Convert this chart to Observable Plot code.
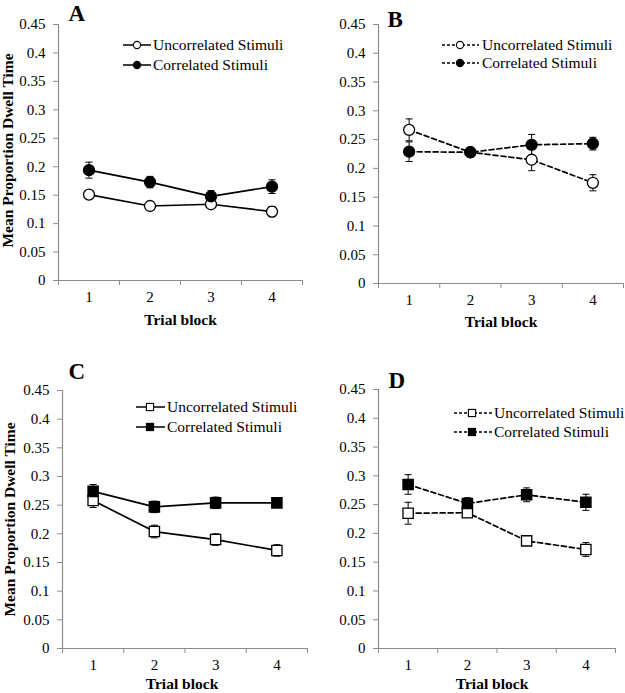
<!DOCTYPE html>
<html>
<head>
<meta charset="utf-8">
<script src="https://cdn.jsdelivr.net/npm/d3@7"></script>
<script src="https://cdn.jsdelivr.net/npm/@observablehq/plot@0.6"></script>
<style>
  html, body { margin: 0; padding: 0; background: #fff; }
  #chart { position: relative; width: 625px; height: 693px; overflow: hidden; background: #fff; }
  #chart svg { position: absolute; }
</style>
</head>
<body>
<div id="chart"></div>
<script>
// ---- data ----
const blocks = [1, 2, 3, 4];
const blockLabels = ["1", "2", "3", "4"];
const blockEdges = [0.5, 1.5, 2.5, 3.5, 4.5];
const yTicks = [0, 0.05, 0.1, 0.15, 0.2, 0.25, 0.3, 0.35, 0.4, 0.45];
const yTickLabels = ["0", "0.05", "0.1", "0.15", "0.2", "0.25", "0.3", "0.35", "0.4", "0.45"];
const seriesNames = ["Uncorrelated Stimuli", "Correlated Stimuli"];
const panelLetters = ["A", "B", "C", "D"];
const xTitle = "Trial block";
const yTitle = "Mean Proportion Dwell Time";

const A_unc = [0.151, 0.131, 0.134, 0.121];
const A_uncErr = [0.005, 0.005, 0.005, 0.009];
const A_cor = [0.194, 0.173, 0.148, 0.165];
const A_corErr = [0.014, 0.010, 0.010, 0.012];

const B_unc = [0.267, 0.228, 0.215, 0.175];
const B_uncErr = [0.019, 0.008, 0.019, 0.014];
const B_cor = [0.229, 0.228, 0.241, 0.243];
const B_corErr = [0.017, 0.008, 0.018, 0.011];

const C_unc = [0.258, 0.204, 0.190, 0.171];
const C_uncErr = [0.012, 0.011, 0.010, 0.010];
const C_cor = [0.274, 0.247, 0.254, 0.254];
const C_corErr = [0.012, 0.010, 0.010, 0.005];

const D_unc = [0.235, 0.236, 0.187, 0.172];
const D_uncErr = [0.019, 0.008, 0.005, 0.012];
const D_cor = [0.285, 0.252, 0.267, 0.254];
const D_corErr = [0.017, 0.010, 0.012, 0.014];

// ---- styling ----
const FONT = "'Liberation Serif', 'Times New Roman', serif";
const AXIS = "#8c8c8c";
const capSymbol = { draw(ctx) { ctx.moveTo(-3.5, 0); ctx.lineTo(3.5, 0); } };

const panels = [
  { letter: panelLetters[0], unc: A_unc, uncErr: A_uncErr, cor: A_cor, corErr: A_corErr, dashed: false, shape: "circle",
    left: 0, top: 0, width: 312, height: 345, mL: 58, mR: 10, mT: 24, mB: 65,
    letterDx: 10, letterDy: -11, titleDy: 40, titleDx: 0, yTitle: true, yTitleDx: -50, yTitleDy: -2,
    legend: { x1: 123, x2: 151, mx: 137, tx: 153, rows: [45, 65] } },
  { letter: panelLetters[1], unc: B_unc, uncErr: B_uncErr, cor: B_cor, corErr: B_corErr, dashed: true, shape: "circle",
    left: 312, top: 0, width: 313, height: 345, mL: 66, mR: 2, mT: 24, mB: 62,
    letterDx: 9, letterDy: -5, titleDy: 39, titleDx: 0, yTitle: false,
    legend: { x1: 442, x2: 479, mx: 460, tx: 482, rows: [45, 63] } },
  { letter: panelLetters[2], unc: C_unc, uncErr: C_uncErr, cor: C_cor, corErr: C_corErr, dashed: false, shape: "square",
    left: 0, top: 345, width: 312, height: 348, mL: 62, mR: 5, mT: 45, mB: 45,
    letterDx: 6, letterDy: -19, titleDy: 36, titleDx: -3, yTitle: true, yTitleDx: -52, yTitleDy: 0,
    legend: { x1: 136, x2: 165, mx: 150, tx: 167, rows: [407, 427] } },
  { letter: panelLetters[3], unc: D_unc, uncErr: D_uncErr, cor: D_cor, corErr: D_corErr, dashed: true, shape: "square",
    left: 312, top: 345, width: 313, height: 348, mL: 66, mR: 10, mT: 44, mB: 45,
    letterDx: 10, letterDy: -9, titleDy: 36, titleDx: -5, yTitle: false,
    legend: { x1: 454, x2: 492, mx: 472, tx: 494, rows: [413, 432] } }
];

const chart = document.getElementById("chart");

for (const p of panels) {
  const unc = blocks.map((b, i) => ({ block: b, v: p.unc[i], e: p.uncErr[i] }));
  const cor = blocks.map((b, i) => ({ block: b, v: p.cor[i], e: p.corErr[i] }));
  const all = unc.concat(cor);
  const caps = all.flatMap(d => [{ block: d.block, v: d.v - d.e }, { block: d.block, v: d.v + d.e }]);
  const dash = p.dashed ? "5,3" : null;
  const r = p.shape === "circle" ? 5.5 : 5.8;

  const marks = [
    Plot.ruleY([0], { stroke: AXIS, strokeWidth: 1.2 }),
    Plot.ruleX([blockEdges[0]], { stroke: AXIS, strokeWidth: 1.2 }),
    Plot.axisY({ ticks: yTicks, tickFormat: d => yTickLabels[yTicks.indexOf(d)], tickSize: 5, tickPadding: 8,
      stroke: AXIS, fill: "black", label: null, fontSize: 15 }),
    Plot.axisX({ ticks: blockEdges, tickSize: 5, tickFormat: () => "", stroke: AXIS, label: null }),
    Plot.axisX({ ticks: blocks, tickSize: 0, tickPadding: 11, tickFormat: d => blockLabels[blocks.indexOf(d)],
      label: null, fill: "black", fontSize: 15 }),
    Plot.ruleX(all, { x: "block", y1: d => d.v - d.e, y2: d => d.v + d.e, stroke: "black", strokeWidth: 1 }),
    Plot.dot(caps, { x: "block", y: "v", symbol: capSymbol, fill: "none", stroke: "black", strokeWidth: 1 }),
    Plot.line(unc, { x: "block", y: "v", stroke: "black", strokeWidth: 1.7, strokeDasharray: dash }),
    Plot.line(cor, { x: "block", y: "v", stroke: "black", strokeWidth: 1.7, strokeDasharray: dash }),
    Plot.dot(unc, { x: "block", y: "v", symbol: p.shape, r, fill: "white", stroke: "black", strokeWidth: 1.3 }),
    Plot.dot(cor, { x: "block", y: "v", symbol: p.shape, r, fill: "black", stroke: "black", strokeWidth: 1.3 }),
    Plot.text([p.letter], { frameAnchor: "top-left", textAnchor: "start", lineAnchor: "middle",
      dx: p.letterDx, dy: p.letterDy, fontSize: 23, fontWeight: "bold", fill: "black" }),
    Plot.text([xTitle], { frameAnchor: "bottom", textAnchor: "middle", lineAnchor: "middle", dx: p.titleDx, dy: p.titleDy,
      fontSize: 15.5, fontWeight: "bold", fill: "black" })
  ];
  if (p.yTitle) {
    marks.push(Plot.text([yTitle], { frameAnchor: "left", textAnchor: "middle", rotate: -90, lineAnchor: "middle",
      dx: p.yTitleDx, dy: p.yTitleDy, fontSize: 15.5, fontWeight: "bold", fill: "black" }));
  }

  const svg = Plot.plot({
    width: p.width, height: p.height,
    marginLeft: p.mL, marginRight: p.mR, marginTop: p.mT, marginBottom: p.mB,
    x: { type: "linear", domain: [blockEdges[0], blockEdges[blockEdges.length - 1]] },
    y: { type: "linear", domain: [yTicks[0], yTicks[yTicks.length - 1]] },
    style: { fontFamily: FONT, fontSize: "15px", color: "black", background: "transparent", overflow: "visible" },
    marks
  });
  svg.style.left = p.left + "px";
  svg.style.top = p.top + "px";
  chart.appendChild(svg);
}

// ---- legends (overlay) ----
const leg = d3.select(chart).append("svg")
  .attr("width", 625).attr("height", 693)
  .style("left", "0px").style("top", "0px")
  .style("font-family", FONT);

for (const p of panels) {
  const L = p.legend;
  seriesNames.forEach((name, i) => {
    const y = L.rows[i];
    const g = leg.append("g");
    g.append("line").attr("x1", L.x1).attr("x2", L.x2).attr("y1", y).attr("y2", y)
      .attr("stroke", "black").attr("stroke-width", 1.5)
      .attr("stroke-dasharray", p.dashed ? "3,2" : null);
    const fill = i === 0 ? "white" : "black";
    if (p.shape === "circle") {
      g.append("circle").attr("cx", L.mx).attr("cy", y).attr("r", 3.6)
        .attr("fill", fill).attr("stroke", "black").attr("stroke-width", 1.1);
    } else {
      g.append("rect").attr("x", L.mx - 3.6).attr("y", y - 3.6).attr("width", 7.2).attr("height", 7.2)
        .attr("fill", fill).attr("stroke", "black").attr("stroke-width", 1.1);
    }
    g.append("text").attr("x", L.tx).attr("y", y).attr("dy", "0.33em")
      .attr("font-size", 15.5).attr("fill", "black").text(name);
  });
}
</script>
</body>
</html>
